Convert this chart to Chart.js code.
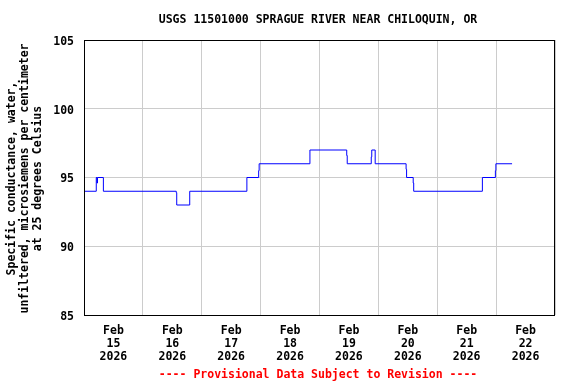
<!DOCTYPE html>
<html>
<head>
<meta charset="utf-8">
<script src="https://cdn.jsdelivr.net/npm/chart.js@4"></script>
<style>html,body{margin:0;padding:0;background:#fff;}canvas{display:block;}</style>
</head>
<body>
<canvas id="c" width="576" height="384"></canvas>
<script>
// Hours since Feb 15 2026 00:00 at which the value changes (stepped series)
const hours  = [0, 5.0, 5.3, 5.5, 7.9, 37.6, 37.8, 43.1, 66.4, 71.2, 71.4, 92.1, 107.1, 107.3, 117.1, 117.3, 118.7, 131.3, 131.5, 134.2, 134.4, 162.4, 167.7, 167.9, 174.5];
const values = [94, 95, 94.6, 95, 94, 93.9, 93, 94, 95, 95.5, 96, 97, 96.6, 96, 96.5, 97, 96, 95.6, 95, 94.6, 94, 95, 95.5, 96, 96];
const dayNumbers = ['15', '16', '17', '18', '19', '20', '21', '22'];
const monthLabel = 'Feb';
const yearLabel = '2026';
const yTicks = [85, 90, 95, 100, 105];
const titleText = 'USGS 11501000 SPRAGUE RIVER NEAR CHILOQUIN, OR';
const yTitleLines = ['Specific conductance, water,', 'unfiltered, microsiemens per centimeter', 'at 25 degrees Celsius'];
const footerText = '---- Provisional Data Subject to Revision ----';

const FONT = '"DejaVu Sans Mono", monospace';

const textPlugin = {
  id: 'texts',
  afterDraw(chart) {
    const ctx = chart.ctx;
    const a = chart.chartArea;
    ctx.save();
    // frame
    ctx.strokeStyle = '#000';
    ctx.lineWidth = 1;
    ctx.strokeRect(Math.round(a.left) + 0.5, Math.round(a.top) + 0.5, Math.round(a.right - a.left) - 1, Math.round(a.bottom - a.top));
    ctx.font = 'bold 11.5px ' + FONT;
    ctx.textAlign = 'center';
    ctx.textBaseline = 'middle';
    ctx.fillStyle = '#000';
    ctx.fillText(titleText, 318, 20);
    ctx.fillStyle = '#ff0000';
    ctx.fillText(footerText, 318, 375);
    ctx.fillStyle = '#000';
    const cy = (a.top + a.bottom) / 2 + 1;
    const xs = [12, 25, 38];
    yTitleLines.forEach((t, i) => {
      ctx.save();
      ctx.translate(xs[i], cy);
      ctx.rotate(-Math.PI / 2);
      ctx.fillText(t, 0, 0);
      ctx.restore();
    });
    ctx.restore();
  }
};

new Chart(document.getElementById('c'), {
  type: 'line',
  data: {
    datasets: [{
      data: hours.map((h, i) => ({ x: h, y: values[i] })),
      borderColor: '#0000ff',
      borderWidth: 1,
      stepped: true,
      pointRadius: 0,
      fill: false,
      tension: 0
    }]
  },
  options: {
    responsive: false,
    animation: false,
    layout: { padding: { left: 0, right: 21, top: 40, bottom: 0 } },
    plugins: { legend: { display: false }, tooltip: { enabled: false }, title: { display: false } },
    scales: {
      x: {
        type: 'linear',
        min: 0,
        max: dayNumbers.length * 24,
        afterBuildTicks(scale) {
          const t = [];
          for (let v = 0; v <= dayNumbers.length * 24; v += 12) t.push({ value: v });
          scale.ticks = t;
        },
        afterFit(scale) { scale.height = 69; },
        grid: {
          drawTicks: false,
          color: (c) => (c.tick && c.tick.value % 24 === 0) ? '#cccccc' : 'rgba(0,0,0,0)',
          lineWidth: 1
        },
        border: { display: false },
        ticks: {
          autoSkip: false,
          maxRotation: 0,
          minRotation: 0,
          padding: 10,
          color: '#000',
          font: { family: FONT, size: 11.5, weight: 'bold', lineHeight: 1.1 },
          callback: (v) => {
            if (v % 24 !== 12) return '';
            const d = Math.floor(v / 24);
            return [monthLabel, dayNumbers[d], yearLabel];
          }
        }
      },
      y: {
        min: yTicks[0],
        max: yTicks[yTicks.length - 1],
        afterBuildTicks(scale) { scale.ticks = yTicks.map(v => ({ value: v })); },
        afterFit(scale) { scale.width = 84; },
        grid: { drawTicks: false, color: '#cccccc', lineWidth: 1 },
        border: { display: false },
        ticks: {
          padding: 10,
          labelOffset: 2,
          color: '#000',
          font: { family: FONT, size: 11.5, weight: 'bold' },
          callback: (v) => String(v)
        }
      }
    }
  },
  plugins: [textPlugin]
});
</script>
</body>
</html>
